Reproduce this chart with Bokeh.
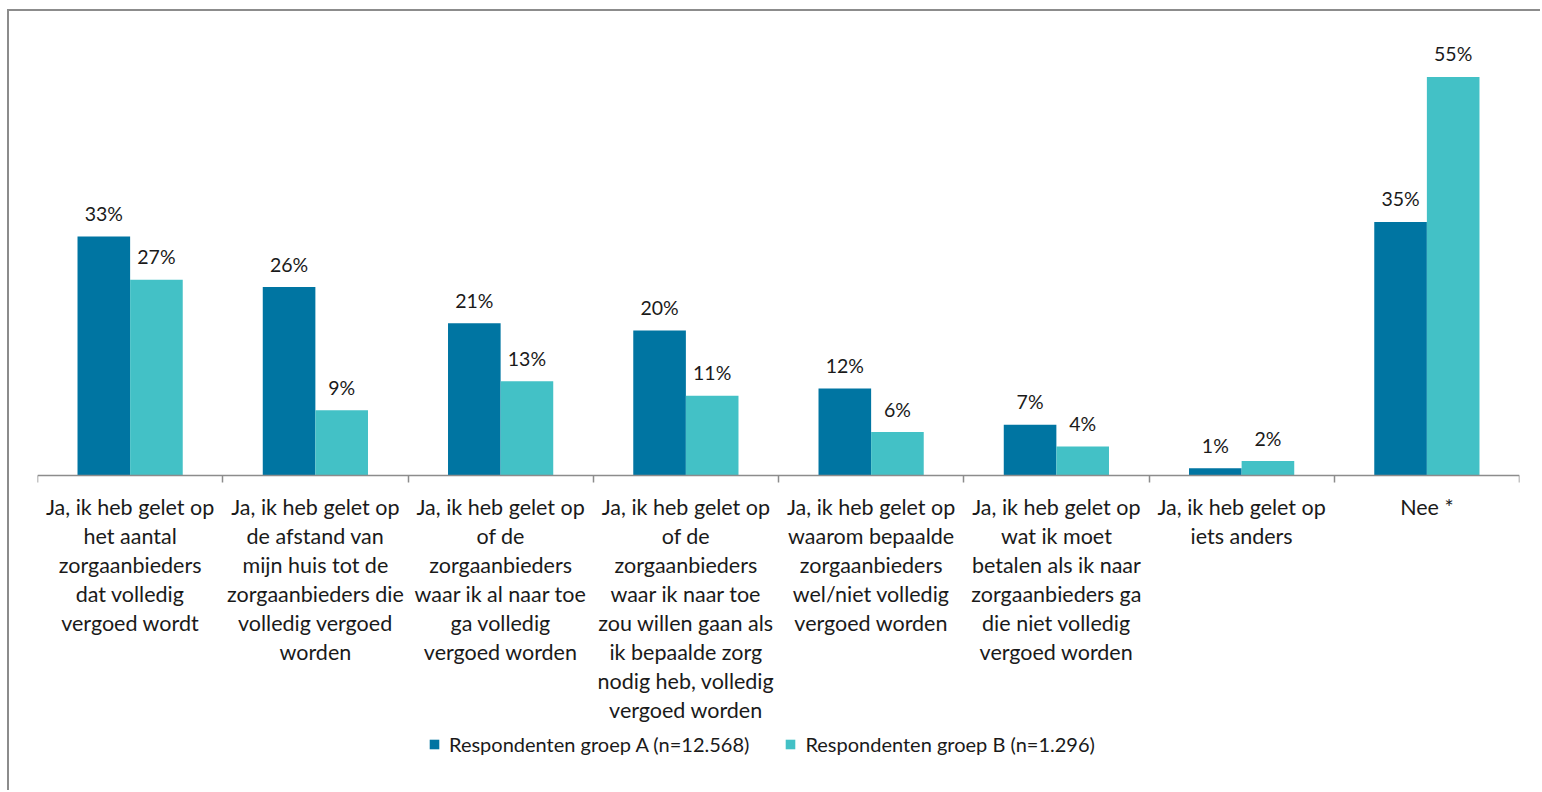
from bokeh.plotting import figure
from bokeh.models import ColumnDataSource, Range1d, FixedTicker, Legend, LegendItem
from bokeh.core.properties import value
from bokeh.embed import file_html
from bokeh.resources import INLINE

categories = [
    "Ja, ik heb gelet op\nhet aantal\nzorgaanbieders\ndat volledig\nvergoed wordt",
    "Ja, ik heb gelet op\nde afstand van\nmijn huis tot de\nzorgaanbieders die\nvolledig vergoed\nworden",
    "Ja, ik heb gelet op\nof de\nzorgaanbieders\nwaar ik al naar toe\nga volledig\nvergoed worden",
    "Ja, ik heb gelet op\nof de\nzorgaanbieders\nwaar ik naar toe\nzou willen gaan als\nik bepaalde zorg\nnodig heb, volledig\nvergoed worden",
    "Ja, ik heb gelet op\nwaarom bepaalde\nzorgaanbieders\nwel/niet volledig\nvergoed worden",
    "Ja, ik heb gelet op\nwat ik moet\nbetalen als ik naar\nzorgaanbieders ga\ndie niet volledig\nvergoed worden",
    "Ja, ik heb gelet op\niets anders",
    "Nee *",
]
groep_a = [33, 26, 21, 20, 12, 7, 1, 35]
groep_b = [27, 9, 13, 11, 6, 4, 2, 55]
series_names = ["Respondenten groep A (n=12.568)", "Respondenten groep B (n=1.296)"]

COL_A = "#0075A2"
COL_B = "#43C1C6"
FONT = "Lato"
TXT = "#1a1a1a"

# layout (pixels)
W, H = 1533, 781
TOP, BOTTOM, LEFT, RIGHT = 22, 4, 28, 23
Y_TOP = 61.0
PX_PER_UNIT = 442 / 61.0
frame_h = H - TOP - BOTTOM
y_bottom = Y_TOP - frame_h / PX_PER_UNIT

n = len(categories)
bw = 0.284
centers = [i + 0.5 for i in range(n)]
src_a = ColumnDataSource(dict(x=[c - bw / 2 for c in centers], top=groep_a,
                              lbl=[f"{v}%" for v in groep_a]))
src_b = ColumnDataSource(dict(x=[c + bw / 2 for c in centers], top=groep_b,
                              lbl=[f"{v}%" for v in groep_b]))

p = figure(width=W, height=H, output_backend="svg", toolbar_location=None,
           x_range=Range1d(0, n), y_range=Range1d(y_bottom, Y_TOP),
           min_border_left=LEFT, min_border_right=RIGHT, min_border_top=TOP,
           min_border_bottom=BOTTOM)
p.styles = {"border-top": "2px solid #8c8c8c", "border-left": "2px solid #8c8c8c",
            "margin-left": "7px", "margin-top": "9px"}
p.outline_line_color = None
p.xgrid.visible = False
p.ygrid.visible = False
p.yaxis.visible = False

ra = p.vbar(x="x", top="top", bottom=0, width=bw, source=src_a, color=COL_A, line_color=None)
rb = p.vbar(x="x", top="top", bottom=0, width=bw, source=src_b, color=COL_B, line_color=None)

for src in (src_a, src_b):
    p.text(x="x", y="top", text="lbl", source=src, text_align="center",
           text_baseline="middle", y_offset=-23, text_font=value(FONT),
           text_font_size="19.5px", text_color=TXT)

ax = p.xaxis[0]
ax.fixed_location = 0
ax.ticker = FixedTicker(ticks=centers, minor_ticks=list(range(n + 1)))
ax.major_label_overrides = {c: lab for c, lab in zip(centers, categories)}
ax.major_tick_out = 0
ax.major_tick_in = 0
ax.minor_tick_out = 7
ax.minor_tick_in = 0
ax.minor_tick_line_color = "#8c8c8c"
ax.minor_tick_line_width = 1.5
ax.axis_line_color = "#8c8c8c"
ax.axis_line_width = 1.5
ax.major_label_standoff = 11
ax.major_label_text_font = FONT
ax.major_label_text_font_size = "21.5px"
ax.major_label_text_color = TXT
ax.major_label_text_line_height = 1.12

legend = Legend(items=[LegendItem(label=series_names[0], renderers=[ra]),
                       LegendItem(label=series_names[1], renderers=[rb])],
                orientation="horizontal", location=(391, 32),
                border_line_color=None, background_fill_alpha=0,
                label_text_font=FONT, label_text_font_size="20px",
                label_text_color=TXT, glyph_width=12, glyph_height=12,
                spacing=35, label_standoff=9, padding=4, margin=0)
p.add_layout(legend)

open("out.html", "w").write(file_html(p, INLINE))
